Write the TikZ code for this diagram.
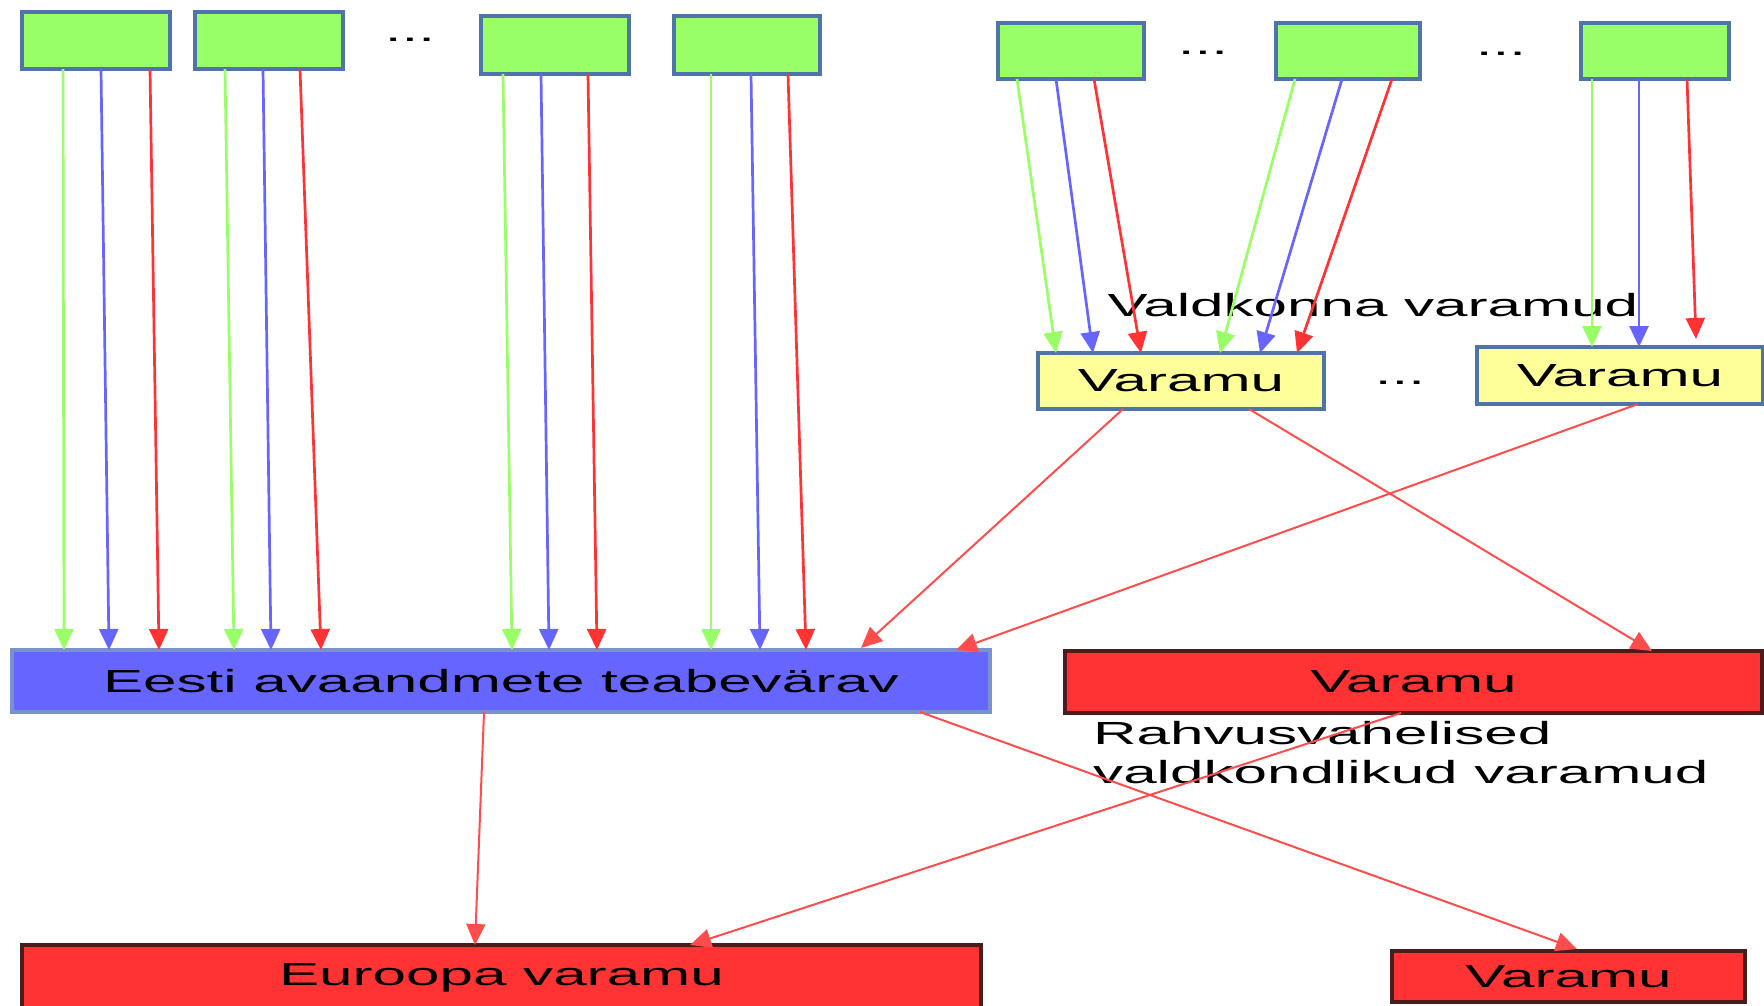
\documentclass[tikz,border=0pt]{standalone}
\usepackage{fontspec}
\setmainfont[FakeStretch=1.88]{Liberation Sans}
\usetikzlibrary{arrows.meta}
\definecolor{gfill}{HTML}{99FF66}
\definecolor{boxbord}{HTML}{4F74A9}
\definecolor{yfill}{HTML}{FFFF99}
\definecolor{bfill}{HTML}{6666FF}
\definecolor{bbord}{HTML}{7A92CC}
\definecolor{rfill}{HTML}{FF3333}
\definecolor{rbord}{HTML}{4A1C1C}
\definecolor{ga}{HTML}{99FF66}
\definecolor{ba}{HTML}{6666FF}
\definecolor{ra}{HTML}{FF3333}
\definecolor{rl}{HTML}{FF4D4D}
\begin{document}
\begin{tikzpicture}[x=1pt,y=-1pt,
  base/.style={anchor=north west,inner sep=0pt,outer sep=0pt,line width=3.5pt,
    font=\fontsize{32}{38}\selectfont},
  gbox/.style={base,fill=gfill,draw=boxbord},
  ybox/.style={base,fill=yfill,draw=boxbord},
  bbox/.style={base,fill=bfill,draw=bbord},
  rbox/.style={base,fill=rfill,draw=rbord},
  lbl/.style={inner sep=0pt,font=\fontsize{32}{38}\selectfont},
  dots/.style={inner sep=0pt,anchor=base,font=\fontsize{32}{38}\selectfont},
  arr/.style={line width=2.7pt,-{Triangle[length=21pt,width=19pt]}},
  garr/.style={arr,draw=ga},
  barr/.style={arr,draw=ba},
  rarr/.style={arr,draw=ra},
  marr/.style={line width=2pt,draw=rl,-{Triangle[length=21pt,width=19pt]}}]
\useasboundingbox (0,0) rectangle (1764,1005);
% top green boxes (left group)
\node[gbox,minimum width=148pt,minimum height=57pt] (b1) at (22,12) {};
\node[gbox,minimum width=148pt,minimum height=57pt] (b2) at (195,12) {};
\node[gbox,minimum width=148pt,minimum height=58pt] (b3) at (481,16) {};
\node[gbox,minimum width=146pt,minimum height=58pt] (b4) at (674,16) {};
\node[dots] (d1) at (410,41) {...};
% top green boxes (right group)
\node[gbox,minimum width=146pt,minimum height=56pt] (g5) at (998,23) {};
\node[gbox,minimum width=144pt,minimum height=56pt] (g6) at (1276,23) {};
\node[gbox,minimum width=148pt,minimum height=56pt] (g7) at (1581,23) {};
\node[dots] (d2) at (1203,54) {...};
\node[dots] (d3) at (1501,55) {...};
% yellow repositories
\node[ybox,minimum width=286pt,minimum height=56pt] (v1) at (1038,353) {Varamu};
\node[ybox,minimum width=286pt,minimum height=57pt] (v2) at (1477,347) {Varamu};
\node[dots] (d4) at (1400,384) {...};
\node[lbl,anchor=base] (vl) at (1373,316) {Valdkonna varamud};
% gateway and red repositories
\node[bbox,minimum width=978pt,minimum height=62pt] (gate) at (12,650) {Eesti avaandmete teabevärav};
\node[rbox,minimum width=697pt,minimum height=62pt] (rv) at (1065,651) {Varamu};
\node[lbl,anchor=base west] (rl1) at (1093,744) {Rahvusvahelised};
\node[lbl,anchor=base west] (rl2) at (1093,783) {valdkondlikud varamud};
\node[rbox,minimum width=959pt,minimum height=65pt] (eu) at (22,945) {Euroopa varamu};
\node[rbox,minimum width=353pt,minimum height=51pt] (sv) at (1392,951) {Varamu};
% arrows from left group to gateway
\draw[garr] ([xshift=41pt]b1.south west) -- ([xshift=52pt]gate.north west);
\draw[barr] ([xshift=79pt]b1.south west) -- ([xshift=97pt]gate.north west);
\draw[rarr] ([xshift=128pt]b1.south west) -- ([xshift=147pt]gate.north west);
\draw[garr] ([xshift=30pt]b2.south west) -- ([xshift=222pt]gate.north west);
\draw[barr] ([xshift=68pt]b2.south west) -- ([xshift=259pt]gate.north west);
\draw[rarr] ([xshift=105pt]b2.south west) -- ([xshift=309pt]gate.north west);
\draw[garr] ([xshift=22pt]b3.south west) -- ([xshift=500pt]gate.north west);
\draw[barr] ([xshift=60pt]b3.south west) -- ([xshift=537pt]gate.north west);
\draw[rarr] ([xshift=107pt]b3.south west) -- ([xshift=585pt]gate.north west);
\draw[garr] ([xshift=37pt]b4.south west) -- ([xshift=699pt]gate.north west);
\draw[barr] ([xshift=77pt]b4.south west) -- ([xshift=748pt]gate.north west);
\draw[rarr] ([xshift=114pt]b4.south west) -- ([xshift=794pt]gate.north west);
% arrows from right group to repositories
\draw[garr] ([xshift=19pt]g5.south west) -- ([xshift=18pt]v1.north west);
\draw[barr] ([xshift=58pt]g5.south west) -- ([xshift=55pt]v1.north west);
\draw[rarr] ([xshift=96pt]g5.south west) -- ([xshift=103pt]v1.north west);
\draw[garr] ([xshift=19pt]g6.south west) -- ([xshift=182pt]v1.north west);
\draw[barr] ([xshift=66pt]g6.south west) -- ([xshift=222pt]v1.north west);
\draw[rarr] ([xshift=116pt]g6.south west) -- ([xshift=259pt]v1.north west);
\draw[garr] ([xshift=11pt]g7.south west) -- ([xshift=115pt]v2.north west);
\draw[barr] ([xshift=58pt]g7.south west) -- ([xshift=162pt]v2.north west);
\draw[rarr] ([xshift=106pt]g7.south west) -- ([xshift=219pt,yshift=8pt]v2.north west);
% main red flows
\draw[marr] ([xshift=85pt]v1.south west) -- ([xshift=849pt,yshift=2pt]gate.north west);
\draw[marr] ([xshift=211pt]v1.south west) -- ([xshift=587pt]rv.north west);
\draw[marr] ([xshift=161pt]v2.south west) -- ([xshift=944pt]gate.north west);
\draw[marr] ([xshift=472pt]gate.south west) -- ([xshift=453pt]eu.north west);
\draw[marr] ([xshift=908pt]gate.south west) -- ([xshift=185pt,yshift=2pt]sv.north west);
\draw[marr] ([xshift=336pt]rv.south west) -- ([xshift=668pt]eu.north west);
\end{tikzpicture}
\end{document}
